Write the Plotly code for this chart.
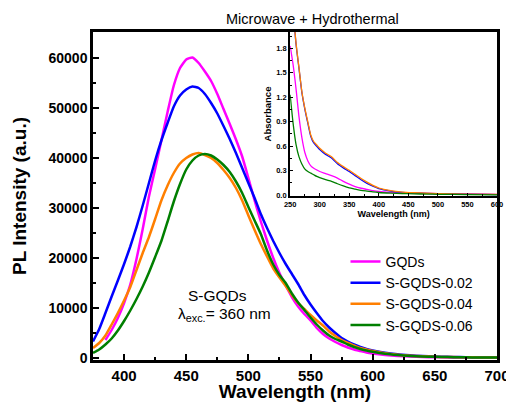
import plotly.graph_objects as go

# ---------------- main PL data ----------------
wl = [375, 380, 385, 390, 395, 400, 405, 410, 415, 420, 425, 430, 435, 440, 445, 450,
      455, 460, 465, 470, 475, 480, 485, 490, 495, 500, 505, 510, 515, 520, 525, 530,
      535, 540, 545, 550, 555, 560, 565, 570, 575, 580, 585, 590, 595, 600, 610, 620,
      630, 640, 650, 660, 670, 680, 690, 700]

wl_gqd = wl[2:]
pl_gqd = [3600, 5600, 8000, 11000, 14700, 19800, 25800, 32300, 37800, 43500, 49200,
          54500, 58000, 59700, 60100, 59000, 57300, 55400, 52800, 49800, 46800, 43700,
          40300, 36000, 31500, 27300, 23500, 20000, 17000, 14500, 12200, 10300, 8800,
          7500, 6000, 4800, 3900, 3200, 2600, 2100, 1700, 1400, 1100, 900, 600, 400,
          280, 200, 150, 120, 100, 80, 70, 60]

pl_002 = [3300, 5800, 9000, 12300, 15500, 18800, 22300, 26200, 30500, 35000, 39500,
          43500, 47000, 50300, 52500, 53700, 54300, 54000, 52800, 51000, 48900, 46400,
          43800, 41000, 38000, 35000, 32000, 28800, 26000, 23400, 21000, 18800, 16800,
          14800, 12600, 10700, 9000, 7400, 6100, 5000, 4000, 3300, 2700, 2200, 1800,
          1500, 1050, 750, 550, 400, 300, 230, 180, 140, 110, 90]

pl_004 = [2000, 3000, 4500, 6700, 9000, 11500, 14200, 17600, 21000, 24200, 27800,
          31500, 34500, 37000, 38900, 40000, 40700, 41000, 40600, 40000, 39000, 37600,
          36000, 34000, 31500, 28500, 25600, 22800, 20300, 17900, 16100, 14400, 12600,
          11000, 9800, 8600, 7500, 6500, 5300, 4400, 3600, 3000, 2500, 2000, 1700,
          1400, 950, 650, 450, 330, 250, 200, 160, 130, 110, 90]

pl_006 = [1000, 1700, 2700, 3900, 5500, 7400, 9500, 11800, 14300, 17100, 20200,
          23400, 27300, 31300, 34800, 37700, 39500, 40500, 40800, 40500, 39700, 38600,
          37200, 35300, 33000, 30200, 27500, 24800, 21500, 18700, 16600, 15000, 12900,
          11100, 9600, 8100, 6700, 5500, 4500, 3800, 3300, 2700, 2200, 1800, 1500,
          1250, 850, 600, 420, 310, 240, 190, 150, 120, 100, 80]

# ---------------- inset absorbance data ----------------
wl_abs = [250, 255, 260, 265, 270, 275, 280, 285, 290, 295, 300, 310, 320, 330, 340,
          350, 360, 370, 380, 390, 400, 420, 440, 460, 480, 500, 550, 600]
abs_gqd = [1.83, 1.60, 1.30, 0.96, 0.70, 0.52, 0.42, 0.36, 0.33, 0.31, 0.29, 0.265,
           0.24, 0.21, 0.17, 0.135, 0.105, 0.085, 0.07, 0.055, 0.045, 0.035, 0.03,
           0.025, 0.022, 0.02, 0.015, 0.01]
abs_002 = [2.9, 2.3, 1.85, 1.55, 1.25, 1.05, 0.88, 0.72, 0.64, 0.60, 0.56, 0.50,
           0.455, 0.385, 0.335, 0.29, 0.24, 0.19, 0.145, 0.11, 0.08, 0.05, 0.035,
           0.028, 0.022, 0.018, 0.012, 0.008]
abs_004 = [2.9, 2.3, 1.86, 1.56, 1.26, 1.06, 0.895, 0.735, 0.655, 0.615, 0.575, 0.515,
           0.47, 0.40, 0.35, 0.305, 0.255, 0.205, 0.16, 0.12, 0.088, 0.055, 0.038,
           0.03, 0.024, 0.02, 0.013, 0.009]
abs_006 = [1.23, 0.88, 0.62, 0.47, 0.38, 0.32, 0.29, 0.27, 0.25, 0.23, 0.215, 0.19,
           0.17, 0.14, 0.113, 0.09, 0.075, 0.06, 0.05, 0.04, 0.033, 0.025, 0.02,
           0.016, 0.013, 0.011, 0.007, 0.005]

names = ["GQDs", "S-GQDS-0.02", "S-GQDS-0.04", "S-GQDS-0.06"]
colors = ["#FF00FF", "#0000FF", "#FF7F00", "#007F00"]

fig = go.Figure()

main_sets = [(wl_gqd, pl_gqd), (wl, pl_002), (wl, pl_004), (wl, pl_006)]
for (x, y), n, c in zip(main_sets, names, colors):
    fig.add_trace(go.Scatter(x=x, y=y, mode="lines", name=n,
                             line=dict(color=c, width=2.5, shape="spline", smoothing=0.5),
                             xaxis="x", yaxis="y"))

inset_sets = [abs_gqd, abs_002, abs_004, abs_006]
for y, n, c in zip(inset_sets, names, colors):
    fig.add_trace(go.Scatter(x=wl_abs, y=y, mode="lines", name=n, showlegend=False,
                             line=dict(color=c, width=1.3, shape="spline", smoothing=0.6),
                             xaxis="x2", yaxis="y2"))

axis_common = dict(showline=True, linecolor="black", mirror=True, ticks="inside",
                   tickcolor="black", showgrid=False, zeroline=False, automargin=False,
                   ticklabeloverflow="allow")

fig.update_layout(
    width=506, height=402,
    margin=dict(l=93, r=9, t=32, b=42),
    paper_bgcolor="white", plot_bgcolor="white",
    font=dict(family="Arial, Liberation Sans, sans-serif", color="black"),
    showlegend=True,
    legend=dict(x=0.625, y=0.348, xanchor="left", yanchor="top",
                bgcolor="rgba(0,0,0,0)", font=dict(size=14), tracegroupgap=0,
                itemwidth=30),
    xaxis=dict(domain=[0, 1], range=[375, 700], dtick=50, tick0=400,
               linewidth=2.5, tickwidth=2, ticklen=6,
               minor=dict(dtick=25, tick0=375, ticks="inside", ticklen=3, tickwidth=1.5, tickcolor="black"),
               tickfont=dict(size=15, weight="bold"),
               title=dict(text="<b>Wavelength (nm)</b>", font=dict(size=19), standoff=6),
               anchor="y", **axis_common),
    yaxis=dict(domain=[0, 1], range=[-400, 65200], dtick=10000, tick0=0,
               tickformat="d",
               linewidth=2.5, tickwidth=2, ticklen=6,
               minor=dict(dtick=5000, ticks="inside", ticklen=3, tickwidth=1.5, tickcolor="black"),
               tickfont=dict(size=14, weight="bold"),
               title=dict(text="<b>PL Intensity (a.u.)</b>", font=dict(size=19), standoff=17),
               anchor="x", **axis_common),
    xaxis2=dict(domain=[0.488, 1.0], range=[250, 600], dtick=50, tick0=250,
                linewidth=2, tickwidth=1, ticklen=3,
                minor=dict(dtick=25, ticks="inside", ticklen=2, tickwidth=1, tickcolor="black"),
                tickfont=dict(size=7.5, weight="bold"),
                title=dict(text="<b>Wavelength (nm)</b>", font=dict(size=9), standoff=2),
                anchor="y2", **axis_common),
    yaxis2=dict(domain=[0.5, 1.0], range=[-0.01, 2.0], dtick=0.3, tick0=0,
                tickformat=".1f",
                linewidth=2, tickwidth=1, ticklen=3,
                minor=dict(dtick=0.15, ticks="inside", ticklen=2, tickwidth=1, tickcolor="black"),
                tickfont=dict(size=7.5, weight="bold"),
                title=dict(text="<b>Absorbance</b>", font=dict(size=9.5), standoff=3),
                anchor="x2", **axis_common),
    annotations=[
        dict(text="Microwave + Hydrothermal", xref="paper", yref="paper",
             x=(312 - 93) / 404, y=(360 - 19) / 328, showarrow=False,
             font=dict(size=14.5), xanchor="center", yanchor="middle"),
        dict(text="S-GQDs", xref="paper", yref="paper",
             x=(217 - 93) / 404, y=(360 - 295) / 328, showarrow=False,
             font=dict(size=15.5), xanchor="center", yanchor="middle"),
        dict(text="λ<sub>exc.</sub>= 360 nm", xref="paper", yref="paper",
             x=(224 - 93) / 404, y=(360 - 314) / 328, showarrow=False,
             font=dict(size=15.5), xanchor="center", yanchor="middle"),
    ],
)

fig.write_html("out.html", config={"displayModeBar": False},
               post_script="document.body.style.margin='0';document.body.style.overflow='hidden';")
